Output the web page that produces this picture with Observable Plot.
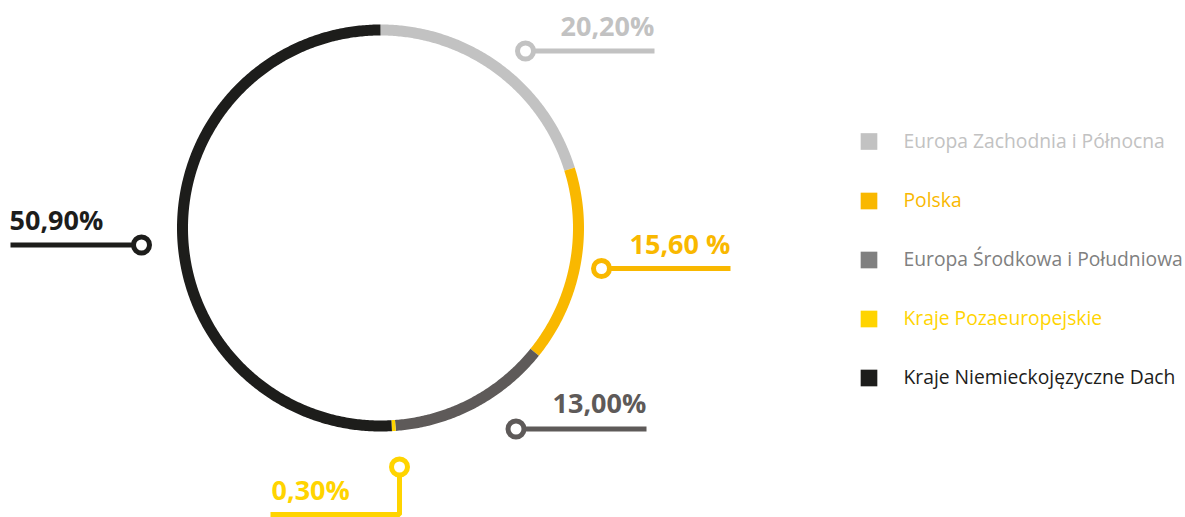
<!DOCTYPE html>
<html>
<head>
<meta charset="utf-8">
<script src="https://cdn.jsdelivr.net/npm/d3@7"></script>
<script src="https://cdn.jsdelivr.net/npm/@observablehq/plot@0.6"></script>
<style>
  html, body { margin: 0; padding: 0; background: #fff; }
  #chart svg { display: block; font-family: "Open Sans", sans-serif; }
</style>
</head>
<body>
<div id="chart"></div>
<script>
// ---- data ----
const categories = [
  "Europa Zachodnia i Północna",
  "Polska",
  "Europa Środkowa i Południowa",
  "Kraje Pozaeuropejskie",
  "Kraje Niemieckojęzyczne Dach"
];
const values = [20.2, 15.6, 13.0, 0.3, 50.9];
const valueLabels = ["20,20%", "15,60 %", "13,00%", "0,30%", "50,90%"];

// ---- styles ----
const ringColors   = ["#c2c2c2", "#f9b800", "#5e5a59", "#ffd400", "#1d1d1b"];
const legendColors = ["#c2c2c2", "#f9b800", "#808080", "#ffd400", "#1d1d1b"];

// ---- layout (pixel space) ----
const W = 1185, H = 517;
const center = {x: 380, y: 227.5}, radius = 198;
// leader layout per category: dot position, path to end, label anchor
const leaders = [
  {dot: [525, 50.5],  path: [[525, 50.5], [654, 50.5]],                 text: [560, 35]},
  {dot: [601, 268],   path: [[601, 268], [730, 268]],                   text: [629, 253]},
  {dot: [515.5, 428.5], path: [[515.5, 428.5], [646, 428.5]],           text: [552, 412]},
  {dot: [399, 466.5], path: [[399, 466.5], [399, 514], [270, 514]],     text: [271, 499]},
  {dot: [141, 244.5], path: [[141, 244.5], [10, 244.5]],                text: [9, 229]}
];
const legendX = 868.5, legendTextX = 903;
const legendY = [141, 200.5, 259.5, 318.5, 377.5];

// ---- ring built from values ----
const total = d3.sum(values);
const ringPts = [];
let cum = 0;
values.forEach((v, i) => {
  const a0 = cum / total * 2 * Math.PI;
  cum += v;
  const a1 = cum / total * 2 * Math.PI;
  const n = Math.max(2, Math.ceil((a1 - a0) / (Math.PI / 360)));
  for (let k = 0; k <= n; k++) {
    const a = a0 + (a1 - a0) * k / n;
    ringPts.push({cat: i, x: center.x + radius * Math.sin(a), y: center.y - radius * Math.cos(a)});
  }
});

const leaderPts = leaders.flatMap((l, i) => l.path.map(p => ({cat: i, x: p[0], y: p[1]})));
const dots = leaders.map((l, i) => ({cat: i, x: l.dot[0], y: l.dot[1]}));
const labelData = leaders.map((l, i) => ({cat: i, x: l.text[0], y: l.text[1], label: valueLabels[i]}));
const legendData = categories.map((c, i) => ({cat: i, name: c, y: legendY[i]}));

const chart = Plot.plot({
  width: W,
  height: H,
  margin: 0,
  x: {domain: [0, W], range: [0, W], axis: null},
  y: {domain: [0, H], range: [0, H], axis: null},
  color: {type: "identity"},
  marks: [
    Plot.line(ringPts, {x: "x", y: "y", z: "cat", stroke: d => ringColors[d.cat], strokeWidth: 11, strokeLinecap: "butt", curve: "linear"}),
    Plot.line(leaderPts, {x: "x", y: "y", z: "cat", stroke: d => ringColors[d.cat], strokeWidth: 5, strokeLinejoin: "miter", strokeLinecap: "butt"}),
    Plot.dot(dots, {x: "x", y: "y", r: 8, fill: "white", stroke: d => ringColors[d.cat], strokeWidth: 5}),
    Plot.text(labelData, {x: "x", y: "y", text: "label", fill: d => ringColors[d.cat], fontSize: 27, fontWeight: "bold", textAnchor: "start", lineAnchor: "bottom", dy: 0}),
    Plot.dot(legendData, {x: legendX, y: "y", symbol: "square", r: 9.4, fill: d => legendColors[d.cat], stroke: null}),
    Plot.text(legendData, {x: legendTextX, y: "y", text: "name", fill: d => legendColors[d.cat], fontSize: 19.3, textAnchor: "start", lineAnchor: "middle"})
  ]
});
document.getElementById("chart").appendChild(chart);
</script>
</body>
</html>
